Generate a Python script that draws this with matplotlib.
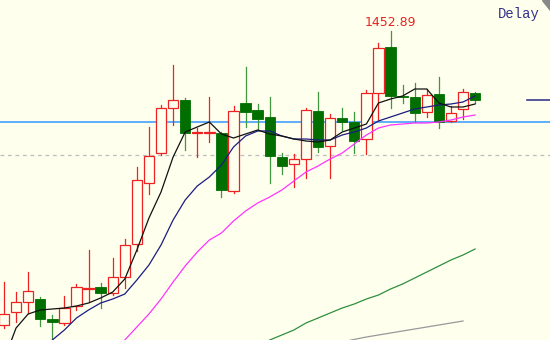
import numpy as np
import matplotlib
matplotlib.use('Agg')
import matplotlib.pyplot as plt
from matplotlib.patches import Rectangle, Polygon

# OHLC
opens = [1305.9, 1312.4, 1317.4, 1318.9, 1308.9, 1306.9, 1315.4, 1323.9, 1324.9, 1321.9,
         1329.9, 1346.4, 1376.9, 1391.9, 1414.4, 1418.4, 1402.15, 1401.9, 1401.9, 1372.9,
         1416.9, 1413.4, 1409.9, 1389.9, 1386.4, 1388.9, 1412.9, 1395.4, 1409.4, 1407.4,
         1398.9, 1421.9, 1444.9, 1420.4, 1419.9, 1412.4, 1421.4, 1407.9, 1413.9, 1421.9]
highs = [1327.4, 1322.4, 1332.4, 1319.9, 1310.9, 1320.4, 1326.4, 1343.4, 1326.9, 1339.4,
         1348.9, 1384.9, 1404.9, 1415.9, 1435.9, 1419.4, 1404.4, 1419.9, 1402.4, 1415.4,
         1434.9, 1416.4, 1419.9, 1391.9, 1391.4, 1414.4, 1422.4, 1411.4, 1414.4, 1412.4,
         1423.4, 1446.9, 1452.89, 1425.9, 1426.9, 1423.9, 1429.9, 1415.4, 1423.9, 1422.4]
lows = [1304.4, 1307.4, 1311.9, 1305.4, 1297.4, 1305.9, 1313.4, 1317.4, 1314.4, 1320.9,
        1324.4, 1342.9, 1371.4, 1390.9, 1405.9, 1393.4, 1389.9, 1397.4, 1369.9, 1371.9,
        1404.9, 1403.4, 1376.9, 1381.4, 1374.9, 1379.4, 1392.4, 1379.4, 1403.4, 1391.9,
        1391.4, 1408.4, 1414.4, 1416.9, 1407.4, 1409.9, 1404.4, 1407.4, 1408.9, 1416.9]
closes = [1311.4, 1317.4, 1322.9, 1308.9, 1307.4, 1314.4, 1324.9, 1324.4, 1321.9, 1329.9,
          1345.9, 1378.4, 1390.4, 1414.4, 1418.4, 1401.9, 1402.4, 1402.4, 1373.4, 1412.9,
          1412.4, 1408.9, 1390.4, 1385.4, 1388.9, 1413.4, 1394.9, 1409.4, 1407.4, 1397.9,
          1421.9, 1444.4, 1420.4, 1419.9, 1411.9, 1420.9, 1407.4, 1411.9, 1422.4, 1418.4]

nan = np.nan
ma5 = [1288.4, 1304.4, 1311.4, 1313.4, 1313.9, 1314.4, 1315.4, 1316.9, 1319.4, 1322.4,
       1328.9, 1343.4, 1359.4, 1372.4, 1389.9, 1402.4, 1404.9, 1407.4, 1401.4, 1399.4,
       1401.4, 1403.4, 1401.4, 1400.4, 1398.9, 1397.9, 1397.4, 1398.4, 1402.4, 1404.4,
       1406.4, 1416.9, 1418.9, 1420.4, 1423.9, 1423.9, 1416.9, 1414.9, 1414.9, 1416.4]
ma10 = [nan, nan, 1285.9, 1292.4, 1298.4, 1303.4, 1309.4, 1313.4, 1316.9, 1318.9,
        1321.4, 1328.4, 1335.9, 1345.9, 1358.4, 1368.4, 1375.4, 1379.9, 1385.9, 1394.9,
        1400.4, 1402.9, 1402.9, 1400.4, 1398.9, 1398.9, 1398.4, 1398.4, 1400.9, 1402.4,
        1404.4, 1407.9, 1409.9, 1411.9, 1413.9, 1414.9, 1415.9, 1416.4, 1417.4, 1420.4]
ma20 = [nan, nan, nan, nan, nan, nan, nan, nan, nan, 1292.4,
        1298.4, 1304.9, 1311.4, 1318.9, 1327.4, 1335.4, 1342.4, 1348.4, 1351.9, 1357.9,
        1362.9, 1366.9, 1369.9, 1373.4, 1377.9, 1382.4, 1385.4, 1388.9, 1391.9, 1396.4,
        1400.9, 1404.4, 1405.9, 1406.4, 1406.9, 1406.9, 1407.4, 1408.4, 1409.9, 1410.9]
ma60 = [nan] * 21 + [1294.9, 1298.4, 1300.9, 1303.4, 1306.9, 1309.4, 1311.9, 1314.4, 1316.4,
                     1318.9, 1320.9, 1323.9, 1326.4, 1329.4, 1332.4, 1335.4, 1338.4, 1340.9, 1343.9]
ma120 = [nan] * 28 + [1297.4, 1298.7, 1299.9, 1300.9, 1301.9, 1302.9, 1303.9, 1304.9,
                      1305.9, 1306.9, 1307.9, nan]

level_line = 1407.4
dash_line = 1390.9
last_mark = 1418.4
peak_label = '1452.89'

bg = '#ffffee'
up_col = '#ee2222'
dn_body = '#006f00'
dn_wick = '#3f963f'

fig = plt.figure(figsize=(5.5, 3.4), dpi=100)
ax = fig.add_axes([0, 0, 1, 1])
ax.set_facecolor(bg)
fig.patch.set_facecolor(bg)
ax.set_xlim(-0.33, 45.2)
ax.set_ylim(1298.4, 1468.4)
ax.axis('off')

ax.axhline(dash_line, color='#bdbdbd', lw=0.9, ls=(0, (3, 3)), zorder=1)
ax.axhline(level_line, color='#3399ff', lw=1.1, zorder=1)

w = 0.86
for i, (o, h, l, c) in enumerate(zip(opens, highs, lows, closes)):
    up = c >= o
    lo, hi = min(o, c), max(o, c)
    if up:
        ax.plot([i, i], [l, h], color=up_col, lw=0.9, zorder=3)
        ax.add_patch(Rectangle((i - w / 2, lo), w, max(hi - lo, 0.01),
                               facecolor=bg, edgecolor=up_col, lw=0.9, zorder=4))
    else:
        ax.plot([i, i], [l, h], color=dn_wick, lw=0.9, zorder=3)
        ax.add_patch(Rectangle((i - w / 2, lo), w, max(hi - lo, 0.5),
                               facecolor=dn_body, edgecolor=dn_body, lw=0.6, zorder=4))

x = np.arange(len(closes))
ax.plot(x, ma120, color='#999999', lw=0.9, zorder=2)
ax.plot(x, ma60, color='#2f8f3f', lw=0.9, zorder=2)
ax.plot(x, ma20, color='#ff33ff', lw=0.9, zorder=5)
ax.plot(x, ma10, color='#1c1c80', lw=0.9, zorder=5)
ax.plot(x, ma5, color='#111111', lw=0.9, zorder=5)

# last-price marker at right edge
ax.plot([43.3, 45.2], [last_mark, last_mark], color='#3a3a8c', lw=1.2, zorder=5)

ax.text(32, 1457.4, peak_label, color='#e8221f', fontsize=9, ha='center', va='center')
ax.text(0.905, 0.978, 'Delay', transform=ax.transAxes, color='#33338a',
        fontsize=10, family='Liberation Mono', ha='left', va='top')
ax.add_patch(Polygon([[0.985, 1.0], [1.0, 1.0], [1.0, 0.97]], closed=True,
                     transform=ax.transAxes, color='#888888', zorder=6))

fig.savefig('out.png', dpi=100, facecolor=bg)
